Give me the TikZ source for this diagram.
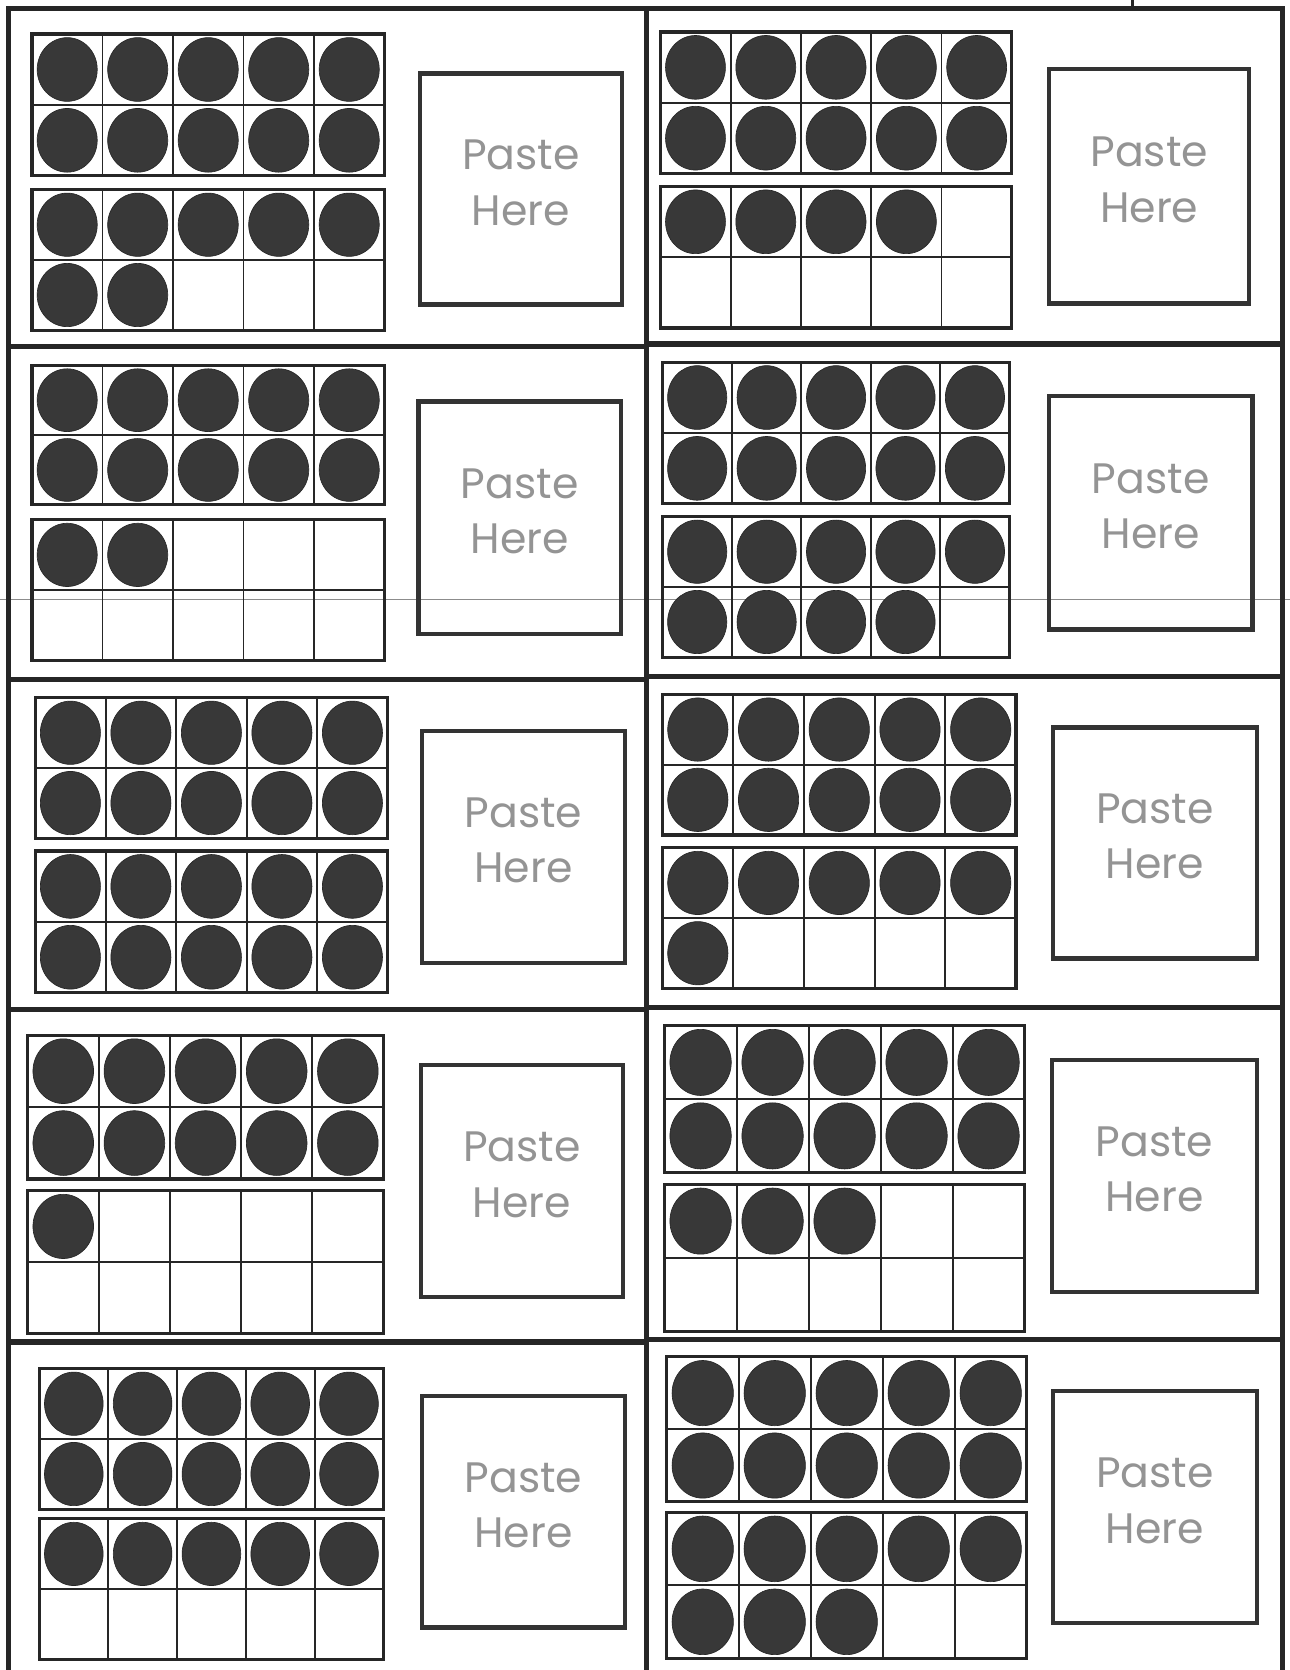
\documentclass[tikz,border=0pt]{standalone}
\usepackage{fontspec}
\newfontfamily\pastefont{Poppins}
\tikzset{
  x=0.5pt, y=-0.5pt,
  border/.style={line width=2.4pt, draw=black!85},
  frameline/.style={line width=1.5pt, draw=black!85},
  gridline/.style={line width=0.9pt, draw=black!85},
  pastebox/.style={line width=2pt, draw=black!80},
  counter/.style={fill=black!78, draw=black!85, line width=0.3pt},
  pastetext/.style={text=black!42, font=\pastefont\fontsize{20}{26}\selectfont, align=center, inner sep=0pt},
  scanline/.style={draw=black!45, line width=0.5pt},
}
\newcommand\mytenframe[6]{% name, x0, y0, x1, y1, count
  \pgfmathsetmacro\tfcw{(#4-#2)/5}
  \pgfmathsetmacro\tfch{(#5-#3)/2}
  \foreach \i in {1,...,4} {\draw[gridline] ({#2+\i*\tfcw},#3) -- ({#2+\i*\tfcw},#5);}
  \draw[gridline] (#2,{#3+\tfch}) -- (#4,{#3+\tfch});
  \foreach \k in {1,...,#6} {
    \pgfmathtruncatemacro\tfc{mod(\k-1,5)}
    \pgfmathtruncatemacro\tfr{floor((\k-1)/5)}
    \path[counter] ({#2+(\tfc+0.5)*\tfcw},{#3+(\tfr+0.5)*\tfch}) ellipse [x radius={0.213*\tfcw*1pt}, y radius={0.225*\tfch*1pt}];
  }
  \draw[frameline] (#2,#3) rectangle (#4,#5);
  \coordinate (#1) at ({(#2+#4)/2},{(#3+#5)/2});
}
\newcommand\mypastebox[5]{% name, x0, y0, x1, y1
  \draw[pastebox] (#2,#3) rectangle (#4,#5);
  \node[pastetext] (#1) at ({(#2+#4)/2},{(#3+#5)/2-6}) {Paste\\Here};
}
\begin{document}
\begin{tikzpicture}
\fill[white] (0,0) rectangle (1211,1568);
\useasboundingbox (0,0) rectangle (1211,1568);

% faint scan line
\draw[scanline] (0,563) -- (1211,563);

% outer border and dividers
\draw[border] (8,1568) -- (8,8) -- (1204.5,8) -- (1204.5,1568);
\draw[border] (607,8) -- (607,1568);
\foreach \yy in {325,638,948,1260} {\draw[border] (8,\yy) -- (607,\yy);}
\foreach \yy in {323,635,946,1258} {\draw[border] (607,\yy) -- (1204.5,\yy);}
\draw[line width=1.5pt, draw=black!85] (1063,0) -- (1063,8);

% row 1
\mytenframe{a1}{30}{32}{361}{165}{10}
\mytenframe{a2}{30}{178}{361}{310}{7}
\mypastebox{ap}{394}{69}{584}{286}
\mytenframe{b1}{620}{30}{950}{163}{10}
\mytenframe{b2}{620}{175}{950}{308}{4}
\mypastebox{bp}{985}{65}{1173}{285}

% row 2
\mytenframe{c1}{30}{343}{361}{474}{10}
\mytenframe{c2}{30}{488}{361}{620}{2}
\mypastebox{cp}{393}{377}{583}{595}
\mytenframe{d1}{622}{340}{948}{473}{10}
\mytenframe{d2}{622}{485}{948}{617}{9}
\mypastebox{dp}{985}{372}{1176}{591}

% row 3
\mytenframe{e1}{33}{655}{364}{787}{10}
\mytenframe{e2}{33}{799}{364}{932}{10}
\mypastebox{ep}{396}{686}{587}{904}
\mytenframe{f1}{622}{652}{954}{784}{10}
\mytenframe{f2}{622}{796}{954}{928}{6}
\mypastebox{fp}{989}{683}{1180}{900}

% row 4
\mytenframe{g1}{26}{972}{360}{1107}{10}
\mytenframe{g2}{26}{1118}{360}{1252}{1}
\mypastebox{gp}{395}{1000}{585}{1218}
\mytenframe{h1}{624}{963}{962}{1101}{10}
\mytenframe{h2}{624}{1112}{962}{1250}{3}
\mypastebox{hp}{988}{995}{1180}{1213}

% row 5
\mytenframe{i1}{37}{1285}{360}{1417}{10}
\mytenframe{i2}{37}{1426}{360}{1558}{5}
\mypastebox{ip}{396}{1311}{587}{1528}
\mytenframe{j1}{626}{1274}{964}{1410}{10}
\mytenframe{j2}{626}{1420}{964}{1557}{8}
\mypastebox{jp}{989}{1306}{1180}{1524}
\end{tikzpicture}
\end{document}
